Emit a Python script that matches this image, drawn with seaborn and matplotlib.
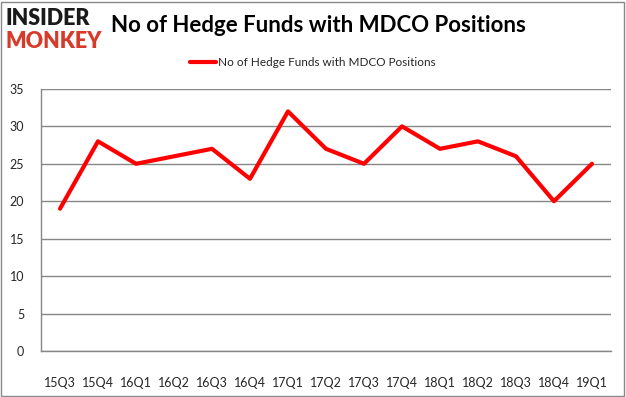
import matplotlib
matplotlib.use("Agg")
import matplotlib.pyplot as plt
import seaborn as sns
import pandas as pd
import numpy as np

quarters = ["15Q3", "15Q4", "16Q1", "16Q2", "16Q3", "16Q4", "17Q1", "17Q2",
            "17Q3", "17Q4", "18Q1", "18Q2", "18Q3", "18Q4", "19Q1"]
funds = [19, 28, 25, 26, 27, 23, 32, 27, 25, 30, 27, 28, 26, 20, 25]
series_name = "No of Hedge Funds with MDCO Positions"
yticks = [0, 5, 10, 15, 20, 25, 30, 35]

sns.set_theme(style="white")
plt.rcParams['font.family'] = ['Lato', 'DejaVu Sans']

df = pd.DataFrame({"quarter": quarters, "funds": funds, "x": np.arange(len(quarters))})

fig = plt.figure(figsize=(6.26, 3.97), dpi=100)
ax = fig.add_axes([0.0655, 0.116, 0.9105, 0.66])

sns.lineplot(data=df, x="x", y="funds", ax=ax, color="#ff0000", linewidth=3,
             label=series_name, legend=False)

ax.set_xlim(-0.5, len(quarters) - 0.5)
ax.set_ylim(0, 35)
ax.set_yticks(yticks)
ax.set_yticklabels([str(v) for v in yticks], fontsize=9)
ax.set_xticks(np.arange(len(quarters)))
ax.set_xticklabels(quarters, fontsize=9)
ax.set_xticks(np.arange(len(quarters) + 1) - 0.5, minor=True)
ax.tick_params(axis="x", which="major", length=0, pad=19)
ax.tick_params(axis="x", which="minor", length=4, color="#868686", width=1, direction="out")
ax.tick_params(axis="y", length=4, color="#868686", width=1, direction="out", pad=8)
ax.grid(axis="y", color="#868686", linewidth=1)
ax.set_axisbelow(True)
ax.set_xlabel("")
ax.set_ylabel("")
for s in ["top", "right"]:
    ax.spines[s].set_visible(False)
for s in ["left", "bottom"]:
    ax.spines[s].set_color("#868686")
    ax.spines[s].set_linewidth(1)

# Title and logo
fig.text(0.177, 0.935, "No of Hedge Funds with MDCO Positions", fontsize=16,
         fontweight="bold", ha="left", va="center", color="black")
fig.text(0.008, 0.953, "INSIDER", fontsize=15.5, fontweight="heavy", ha="left",
         va="center", color="#1a1a1a")
fig.text(0.008, 0.895, "MONKEY", fontsize=15.5, fontweight="heavy", ha="left",
         va="center", color="#d63b2a")

# Legend
fig.legend(handles=ax.get_lines(), labels=[series_name], loc="center",
           bbox_to_anchor=(0.5, 0.843), frameon=False, fontsize=8.5,
           handlelength=2.2, handletextpad=0.15)

# Figure border
fig.patches.append(plt.Rectangle((0.002, 0.003), 0.995, 0.993, transform=fig.transFigure,
                                 fill=False, edgecolor="#888888", linewidth=1))

fig.savefig("out.png", dpi=100)
